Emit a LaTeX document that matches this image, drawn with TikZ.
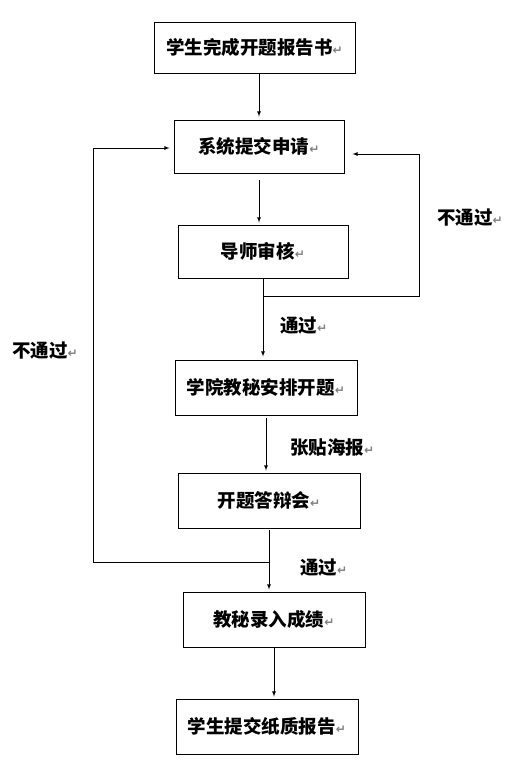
\documentclass[tikz,border=0pt]{standalone}
\usepackage{fontspec}
\usepackage{tikz}
\newfontfamily\cjk{Noto Sans CJK SC}
\newfontfamily\dvfont{DejaVu Sans}
\newcommand{\pmark}{{\dvfont\fontsize{12pt}{12pt}\selectfont\textcolor{gray}{↵}}}

\begin{document}
\begin{tikzpicture}[x=1pt,y=-1pt,
  box/.style={draw, line width=0.9pt, minimum height=53pt, inner sep=0pt,
    font=\cjk\bfseries\fontsize{18.5pt}{20pt}\selectfont},
  lbl/.style={anchor=west, inner sep=0pt, font=\cjk\bfseries\fontsize{18.5pt}{20pt}\selectfont},
  arr/.style={-latex, line width=0.8pt}]

\useasboundingbox (0,0) rectangle (517,780);

% boxes
\node[box, minimum width=201pt, minimum height=51pt] (report) at (254.5,47.5) {学生完成开题报告书\pmark};
\node[box, minimum width=170pt] (apply) at (259,146.5) {系统提交申请\pmark};
\node[box, minimum width=170pt] (check) at (263,251.5) {导师审核\pmark};
\node[box, minimum width=182pt, minimum height=55pt] (arrange) at (266,387.5) {学院教秘安排开题\pmark};
\node[box, minimum width=182pt, minimum height=55pt] (defense) at (269,500.5) {开题答辩会\pmark};
\node[box, minimum width=182pt, minimum height=55pt] (grade) at (274,619.5) {教秘录入成绩\pmark};
\node[box, minimum width=182pt, minimum height=55pt] (paper) at (267,726.5) {学生提交纸质报告\pmark};

% main flow
\draw[arr, shorten >=3pt] (report.south -| apply) -- (apply.north);
\draw[arr, shorten <=7pt, shorten >=2pt] (apply.south) -- (apply.south |- check.north);
\draw[arr, shorten >=3pt] (check.south) -- (check.south |- arrange.north);
\draw[arr, shorten <=3pt, shorten >=2pt] (arrange.south) -- (arrange.south |- defense.north);
\draw[arr, shorten <=2pt, shorten >=2pt] (defense.south) -- (defense.south |- grade.north);
\draw[arr, shorten >=2pt] (grade.south) -- (grade.south |- paper.north);

% loop back, right side
\coordinate (rb) at (419,296);
\coordinate (rt) at (419,154);
\draw[arr, shorten >=8pt] (check.south |- rb) -- (rb) -- (rt) -- (apply.east |- rt);

% loop back, left side
\coordinate (lb) at (93,562);
\coordinate (lt) at (93,148);
\draw[arr, shorten >=4pt] (defense.south |- lb) -- (lb) -- (lt) -- (apply.west |- lt);

% labels
\node[lbl] (failr) at (437,218) {不通过\pmark};
\node[lbl] (passa) at (280,326) {通过\pmark};
\node[lbl] (poster) at (290,447) {张贴海报\pmark};
\node[lbl] (faill) at (12,351) {不通过\pmark};
\node[lbl] (passb) at (300,568) {通过\pmark};

\end{tikzpicture}
\end{document}
